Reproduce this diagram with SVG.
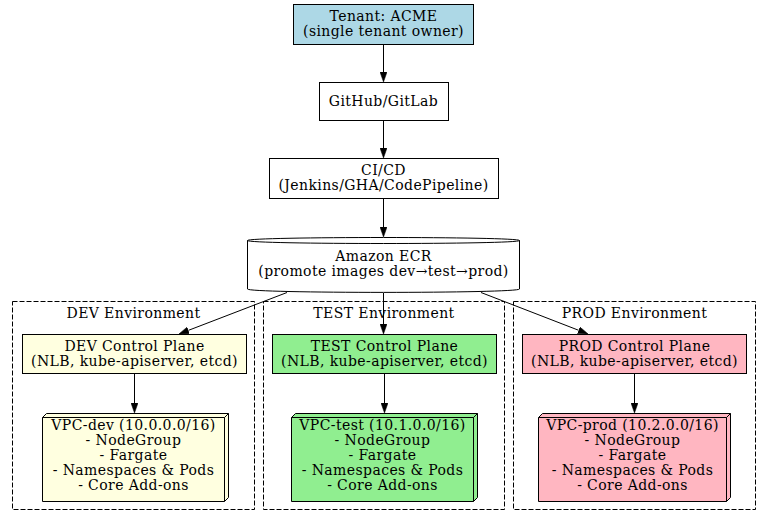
<svg xmlns="http://www.w3.org/2000/svg" width="768" height="522" viewBox="0 0 768 522">
<style>
text{font-family:"DejaVu Serif","Liberation Serif",serif;font-size:14px;letter-spacing:0.4px;fill:#000;text-anchor:middle}
.n{stroke:#000;stroke-width:1}
.cl{fill:none;stroke:#000;stroke-width:1;stroke-dasharray:5,2}
.e{fill:none;stroke:#000;stroke-width:1;marker-end:url(#ah)}
</style>
<defs>
<marker id="ah" viewBox="0 0 10 7" refX="0" refY="3.5" markerWidth="10" markerHeight="7" markerUnits="userSpaceOnUse" orient="auto">
<path d="M0,0 L10,3.5 L0,7 z" fill="#000" stroke="#000" stroke-width="0.5"/>
</marker>
</defs>
<rect width="768" height="522" fill="#fff"/>

<g id="cluster_dev">
<rect class="cl" x="12.5" y="301.5" width="242" height="208"/>
<text x="133.5" y="318">DEV Environment</text>
</g>
<g id="cluster_test">
<rect class="cl" x="263.5" y="301.5" width="241" height="208"/>
<text x="384" y="318">TEST Environment</text>
</g>
<g id="cluster_prod">
<rect class="cl" x="513.5" y="301.5" width="242" height="208"/>
<text x="634.5" y="318">PROD Environment</text>
</g>

<g id="tenant">
<rect class="n" x="293.5" y="4.5" width="180" height="40" fill="#add8e6"/>
<text x="383.5" y="21">Tenant: ACME</text>
<text x="383.5" y="36">(single tenant owner)</text>
</g>
<g id="git">
<rect class="n" x="319.5" y="82.5" width="129" height="38" fill="#fff"/>
<text x="383.5" y="106">GitHub/GitLab</text>
</g>
<g id="cicd">
<rect class="n" x="269.5" y="158.5" width="229" height="40" fill="#fff"/>
<text x="383.5" y="175">CI/CD</text>
<text x="383.5" y="190">(Jenkins/GHA/CodePipeline)</text>
</g>
<g id="ecr">
<path class="n" fill="#fff" d="M247.5,240.5 C247.5,236.5 519.5,236.5 519.5,240.5 L519.5,289 C519.5,293.5 247.5,293.5 247.5,289 Z"/>
<path class="n" fill="none" d="M247.5,240.5 C247.5,244.5 519.5,244.5 519.5,240.5"/>
<text x="383.5" y="261">Amazon ECR</text>
<text x="383.5" y="276">(promote images dev→test→prod)</text>
</g>

<g id="dev_cp">
<rect class="n" x="22.5" y="334.5" width="224" height="39" fill="#ffffe0"/>
<text x="134.5" y="351">DEV Control Plane</text>
<text x="134.5" y="366">(NLB, kube-apiserver, etcd)</text>
</g>
<g id="test_cp">
<rect class="n" x="272.5" y="334.5" width="224" height="39" fill="#90ee90"/>
<text x="384.5" y="351">TEST Control Plane</text>
<text x="384.5" y="366">(NLB, kube-apiserver, etcd)</text>
</g>
<g id="prod_cp">
<rect class="n" x="522.5" y="334.5" width="224" height="39" fill="#ffb6c1"/>
<text x="634.5" y="351">PROD Control Plane</text>
<text x="634.5" y="366">(NLB, kube-apiserver, etcd)</text>
</g>

<g id="dev_vpc">
<path class="n" fill="#ffffe0" d="M42.5,417.5 L46.5,413.5 L228.5,413.5 L228.5,497.5 L224.5,501.5 L42.5,501.5 Z"/>
<path class="n" fill="none" d="M42.5,417.5 L224.5,417.5 L224.5,501.5 M224.5,417.5 L228.5,413.5"/>
<text x="133.5" y="429.5">VPC-dev (10.0.0.0/16)</text>
<text x="133.5" y="444.5">- NodeGroup</text>
<text x="133.5" y="459.5">- Fargate</text>
<text x="133.5" y="474.5">- Namespaces &amp; Pods</text>
<text x="133.5" y="489.5">- Core Add-ons</text>
</g>
<g id="test_vpc">
<path class="n" fill="#90ee90" d="M291.5,417.5 L295.5,413.5 L477.5,413.5 L477.5,497.5 L473.5,501.5 L291.5,501.5 Z"/>
<path class="n" fill="none" d="M291.5,417.5 L473.5,417.5 L473.5,501.5 M473.5,417.5 L477.5,413.5"/>
<text x="382.5" y="429.5">VPC-test (10.1.0.0/16)</text>
<text x="382.5" y="444.5">- NodeGroup</text>
<text x="382.5" y="459.5">- Fargate</text>
<text x="382.5" y="474.5">- Namespaces &amp; Pods</text>
<text x="382.5" y="489.5">- Core Add-ons</text>
</g>
<g id="prod_vpc">
<path class="n" fill="#ffb6c1" d="M538.5,417.5 L542.5,413.5 L730.5,413.5 L730.5,497.5 L726.5,501.5 L538.5,501.5 Z"/>
<path class="n" fill="none" d="M538.5,417.5 L726.5,417.5 L726.5,501.5 M726.5,417.5 L730.5,413.5"/>
<text x="632.5" y="429.5">VPC-prod (10.2.0.0/16)</text>
<text x="632.5" y="444.5">- NodeGroup</text>
<text x="632.5" y="459.5">- Fargate</text>
<text x="632.5" y="474.5">- Namespaces &amp; Pods</text>
<text x="632.5" y="489.5">- Core Add-ons</text>
</g>

<g id="edges">
<path class="e" d="M383.5,44.5 L383.5,72"/>
<path class="e" d="M383.5,120.5 L383.5,148"/>
<path class="e" d="M383.5,198.5 L383.5,227"/>
<path class="e" d="M383.5,293 L383.5,324"/>
<path class="e" d="M287,292.5 L188.3,330.4"/>
<path class="e" d="M481,292.5 L578.7,330.3"/>
<path class="e" d="M134.5,373.5 L134.5,403"/>
<path class="e" d="M384.5,373.5 L384.5,403"/>
<path class="e" d="M634.5,373.5 L634.5,403"/>
</g>
</svg>
